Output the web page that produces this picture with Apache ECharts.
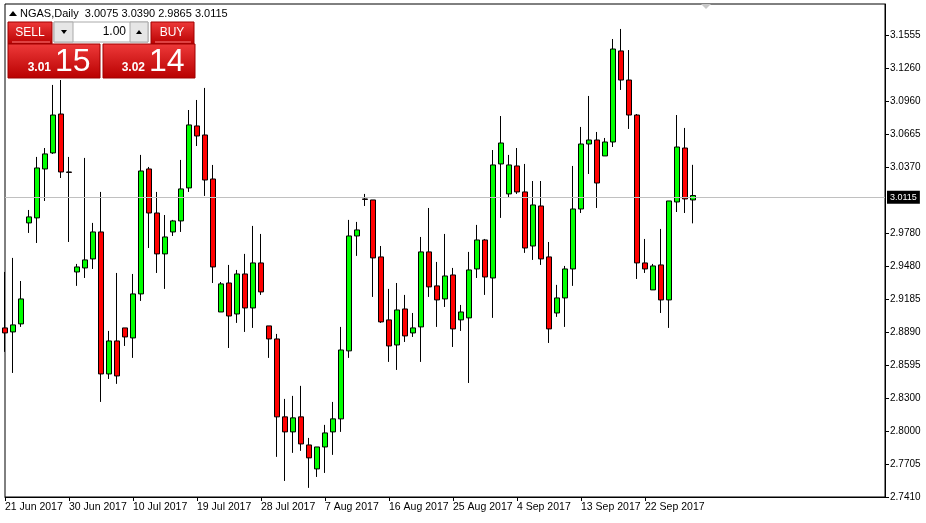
<!DOCTYPE html>
<html><head><meta charset="utf-8">
<script src="https://cdn.jsdelivr.net/npm/echarts@6/dist/echarts.min.js"></script>
<style>html,body{margin:0;padding:0;background:#fff}#c{width:926px;height:523px}</style>
</head><body><div id="c"></div>
<script>
// [open, close, low, high]
const ohlc = [
[2.8927,2.8882,2.8712,2.9429],[2.8891,2.8954,2.8523,2.9555],[2.8963,2.9187,2.8936,2.9348],[2.9869,2.9923,2.9779,2.9985],
[2.9914,3.0362,2.9689,3.0461],[3.0353,3.0488,3.0066,3.0541],[3.0497,3.0837,3.0488,3.1107],[3.0846,3.0326,3.0272,3.1151],
[3.0326,3.0322,2.9698,3.0461],[2.9429,2.9474,2.9304,2.9501],[2.9465,2.9537,2.9375,3.0452],[2.9546,2.9788,2.9456,2.9869],
[2.9788,2.8514,2.8263,3.0147],[2.8514,2.8810,2.8469,2.8900],[2.8810,2.8496,2.8425,2.9420],[2.8927,2.8846,2.8765,2.8927],
[2.8837,2.9232,2.8658,2.9411],[2.9232,3.0335,2.9169,3.0479],[3.0353,2.9958,2.9644,3.0371],[2.9958,2.9591,2.9420,3.0147],
[2.9591,2.9743,2.9277,2.9940],[2.9788,2.9887,2.9752,2.9896],[2.9887,3.0174,2.9788,3.0434],[3.0183,3.0748,3.0147,3.0882],
[3.0739,3.0649,3.0559,3.0972],[3.0658,3.0254,3.0111,3.1080],[3.0263,2.9474,2.9330,3.0389],[2.9070,2.9322,2.9070,2.9339],
[2.9330,2.9034,2.8747,2.9492],[2.9052,2.9411,2.8972,2.9447],[2.9411,2.9106,2.8891,2.9591],[2.9106,2.9510,2.8927,2.9842],
[2.9510,2.9250,2.9223,2.9770],[2.8945,2.8828,2.8658,2.8945],[2.8828,2.8129,2.7770,2.8873],[2.8129,2.7994,2.7554,2.8290],
[2.7994,2.8120,2.7806,2.8317],[2.8129,2.7886,2.7824,2.8407],[2.7877,2.7761,2.7492,2.7940],[2.7662,2.7859,2.7590,2.7859],
[2.7859,2.7985,2.7626,2.8057],[2.7994,2.8111,2.7788,2.8263],[2.8111,2.8729,2.7994,2.8936],[2.8721,2.9752,2.8658,2.9896],
[2.9752,2.9806,2.9573,2.9878],[3.0084,3.0080,3.0021,3.0129],[3.0075,2.9555,2.9205,3.0075],[2.9564,2.8981,2.8972,2.9662],
[2.8999,2.8765,2.8622,2.9277],[2.8774,2.9088,2.8550,2.9330],[2.9097,2.8855,2.8801,2.9223],[2.8882,2.8927,2.8846,2.9061],
[2.8936,2.9609,2.8622,2.9743],[2.9609,2.9295,2.9205,3.0003],[2.9304,2.9178,2.8936,2.9519],[2.9187,2.9393,2.9115,2.9770],
[2.9402,2.8918,2.8756,2.9465],[2.8999,2.9070,2.8900,2.9133],[2.9017,2.9447,2.8433,2.9609],[2.9456,2.9716,2.9375,2.9851],
[2.9716,2.9384,2.9223,2.9725],[2.9375,3.0389,2.9017,3.0523],[3.0398,3.0586,2.9914,3.0828],[3.0129,3.0389,3.0093,3.0479],
[3.0380,3.0147,3.0129,3.0541],[3.0147,2.9644,2.9600,3.0398],[2.9662,3.0030,2.9537,3.0245],[3.0021,2.9546,2.9492,3.0245],
[2.9564,2.8918,2.8792,2.9698],[2.9061,2.9196,2.9026,2.9313],[2.9196,2.9456,2.8936,2.9483],[2.9456,2.9994,2.9304,3.0380],
[2.9994,3.0577,2.9958,3.0730],[3.0577,3.0613,3.0308,3.1008],[3.0613,3.0227,3.0003,3.0685],[3.0470,3.0595,3.0470,3.0631],
[3.0595,3.1429,3.0550,3.1519],[3.1412,3.1151,3.1062,3.1609],[3.1151,3.0837,3.0712,3.1420],[3.0837,2.9510,2.9366,3.0846],
[2.9510,2.9456,2.9420,2.9725],[2.9268,2.9483,2.9268,2.9501],[2.9492,2.9178,2.9061,2.9815],[2.9178,3.0066,2.8927,3.0066],
[3.0057,3.0550,2.9967,3.0837],[3.0541,3.0084,2.9958,3.0721],[3.0075,3.0115,2.9865,3.0390]
];
const dateLabels = ['21 Jun 2017','30 Jun 2017','10 Jul 2017','19 Jul 2017','28 Jul 2017','7 Aug 2017','16 Aug 2017','25 Aug 2017','4 Sep 2017','13 Sep 2017','22 Sep 2017'];
const priceTicks = [3.1555,3.1260,3.0960,3.0665,3.0370,2.9780,2.9480,2.9185,2.8890,2.8595,2.8300,2.8000,2.7705,2.7410];
const lastPrice = 3.0115;
const header = 'NGAS,Daily  3.0075 3.0390 2.9865 3.0115';
const TOTAL = 111;
const cats = []; for (let i=0;i<TOTAL;i++) cats.push(i);
const tickIdx = dateLabels.map((d,k)=>k*8);

const F = 'Liberation Sans, DejaVu Sans, sans-serif';
function redGrad(){return new echarts.graphic.LinearGradient(0,0,0,1,[{offset:0,color:'#ee3a3a'},{offset:1,color:'#b80000'}]);}
const chart = echarts.init(document.getElementById('c'));
chart.setOption({
  animation:false, backgroundColor:'#fff',
  grid:{left:5,top:4,width:880,bottom:26,show:true,borderColor:'#000',borderWidth:1,backgroundColor:'#fff'},
  xAxis:{type:'category',data:cats,boundaryGap:false,
    axisLine:{lineStyle:{color:'#000'}},
    axisTick:{show:true,customValues:tickIdx,length:4,lineStyle:{color:'#000'}},
    axisLabel:{customValues:tickIdx,formatter:(v)=>dateLabels[Math.round(v/8)]||'',color:'#000',fontFamily:F,fontSize:10.5,align:'left',margin:5},
    splitLine:{show:false}},
  yAxis:{type:'value',position:'right',min:2.7410,max:3.1833,scale:true,
    axisLine:{show:true,lineStyle:{color:'#000'}},
    axisTick:{show:true,customValues:priceTicks,length:4,lineStyle:{color:'#000'}},
    axisLabel:{customValues:priceTicks,formatter:v=>v.toFixed(4),color:'#000',fontFamily:F,fontSize:10,margin:5},
    splitLine:{show:false}},
  series:[{type:'candlestick',data:ohlc,barWidth:5,
    itemStyle:{color:'#00ff00',color0:'#ff0000',borderColor:'#000',borderColor0:'#000',borderWidth:1},
    markLine:{symbol:'none',silent:true,data:[{yAxis:lastPrice}],
      lineStyle:{color:'#c0c0c0',type:'solid',width:1},
      label:{position:'end',formatter:lastPrice.toFixed(4),backgroundColor:'#000',color:'#fff',fontFamily:F,fontSize:9,padding:[2,3],distance:2}}
  }],
  graphic:[
    {type:'polygon',shape:{points:[[9,16],[13,11],[17,16]]},style:{fill:'#000'}},
    {type:'text',left:20,top:8,style:{text:header,font:'11px '+F,fill:'#000'}},
    {type:'polygon',shape:{points:[[701,4],[711,4],[706,9]]},style:{fill:'#c8c8c8'}},
    {type:'rect',shape:{x:8,y:22,width:44,height:22},style:{fill:redGrad(),stroke:'#a00000'}},
    {type:'text',x:30,y:33,style:{text:'SELL',font:'12px '+F,fill:'#fff',align:'center',verticalAlign:'middle'}},
    {type:'line',shape:{x1:12,y1:42,x2:50,y2:42},style:{stroke:'#ff8080'}},
    {type:'rect',shape:{x:54,y:22,width:94,height:20},style:{fill:'#fff',stroke:'#aaa'}},
    {type:'rect',shape:{x:54,y:22,width:19,height:20},style:{fill:'#e6e6e6',stroke:'#aaa'}},
    {type:'rect',shape:{x:130,y:22,width:18,height:20},style:{fill:'#e6e6e6',stroke:'#aaa'}},
    {type:'polygon',shape:{points:[[61,30],[67,30],[64,34]]},style:{fill:'#000'}},
    {type:'polygon',shape:{points:[[136,34],[142,34],[139,30]]},style:{fill:'#000'}},
    {type:'text',x:126,y:32,style:{text:'1.00',font:'12px '+F,fill:'#000',align:'right',verticalAlign:'middle'}},
    {type:'rect',shape:{x:151,y:22,width:43,height:22},style:{fill:redGrad(),stroke:'#a00000'}},
    {type:'text',x:172,y:33,style:{text:'BUY',font:'12px '+F,fill:'#fff',align:'center',verticalAlign:'middle'}},
    {type:'line',shape:{x1:155,y1:42,x2:191,y2:42},style:{stroke:'#ff8080'}},
    {type:'rect',shape:{x:8,y:44,width:92,height:34},style:{fill:redGrad(),stroke:'#a00000'}},
    {type:'rect',shape:{x:103,y:44,width:92,height:34},style:{fill:redGrad(),stroke:'#a00000'}},
    {type:'text',x:51,y:74,style:{text:'3.01',font:'bold 12px '+F,fill:'#fff',align:'right',verticalAlign:'bottom'}},
    {type:'text',x:55,y:78,style:{text:'15',font:'32px '+F,fill:'#fff',align:'left',verticalAlign:'bottom'}},
    {type:'text',x:145,y:74,style:{text:'3.02',font:'bold 12px '+F,fill:'#fff',align:'right',verticalAlign:'bottom'}},
    {type:'text',x:149,y:78,style:{text:'14',font:'32px '+F,fill:'#fff',align:'left',verticalAlign:'bottom'}}
  ]
});
</script></body></html>
